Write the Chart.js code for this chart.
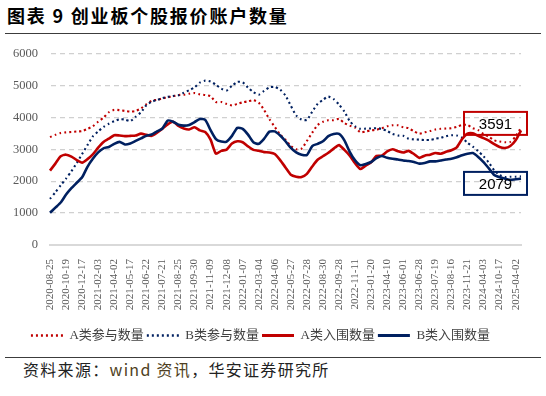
<!DOCTYPE html>
<html>
<head>
<meta charset="utf-8">
<script src="https://cdn.jsdelivr.net/npm/chart.js@4.4.1/dist/chart.umd.min.js"></script>
<style>
    html, body { margin: 0; padding: 0; background: #fff; }
    body { width: 546px; height: 396px; position: relative; overflow: hidden; font-family: "Noto Sans CJK SC", sans-serif; }
    #title { position: absolute; left: 7px; top: 2px; font-size: 18px; font-weight: 700; letter-spacing: 1.8px; color: #000; white-space: nowrap; }
    .rule { position: absolute; left: 5px; width: 536px; height: 0; border-top: 1.5px solid #3c3c3c; }
    #chartBox { position: absolute; left: 0; top: 34px; width: 546px; height: 320px; }
    #source { position: absolute; left: 23px; top: 357px; font-size: 16px; letter-spacing: 1.3px; color: #222; white-space: nowrap; }
    #source .wind { color: #4f3f22; }
</style>
</head>
<body>
<div id="title">图表 9 创业板个股报价账户数量</div>
<div class="rule" style="top:33px"></div>
<div id="chartBox"><canvas id="chart"></canvas></div>
<div class="rule" style="top:357px"></div>
<div id="source">资料来源：<span class="wind">wind 资讯</span>，华安证券研究所</div>

<script>
// tick dates shown on the x axis (one every 3 points)
const tickDates = [
    '2020-08-25', '2020-10-19', '2020-12-17', '2021-02-03', '2021-04-02', '2021-05-17',
    '2021-06-22', '2021-07-21', '2021-08-25', '2021-09-30', '2021-11-09', '2021-12-08',
    '2022-01-07', '2022-03-04', '2022-04-06', '2022-05-27', '2022-07-28', '2022-08-30',
    '2022-09-28', '2022-11-11', '2023-01-20', '2023-04-10', '2023-06-01', '2023-06-28',
    '2023-07-19', '2023-08-16', '2023-11-21', '2024-04-03', '2024-10-17', '2025-04-02'
];
const pointsPerTick = 3;

const seriesNames = ['A类参与数量', 'B类参与数量', 'A类入围数量', 'B类入围数量'];

const aJoined = [
    3380, 3450, 3510, 3530, 3540, 3555, 3570, 3640, 3720, 3860,
    3990, 4160, 4235, 4225, 4200, 4180, 4200, 4280, 4410, 4520,
    4550, 4590, 4630, 4660, 4700, 4710, 4740, 4760, 4720, 4700,
    4660, 4480, 4480, 4420, 4370, 4420, 4470, 4500, 4540, 4460,
    4230, 3940, 3700, 3460, 3300, 3100, 3000, 3020, 3260, 3520,
    3760, 3860, 3910, 3910, 3950, 3820, 3740, 3680, 3530, 3560,
    3590, 3610, 3660, 3720, 3750, 3750, 3690, 3660, 3560, 3490,
    3530, 3570, 3620, 3640, 3650, 3660, 3700, 3760, 3760, 3660,
    3600, 3480, 3390, 3280, 3240, 3220, 3230, 3400, 3680
];
const bJoined = [
    1445, 1650, 1870, 2080, 2310, 2570, 2850, 3130, 3400, 3560,
    3700, 3800, 3880, 3940, 3930, 3880, 4020, 4160, 4380, 4490,
    4540, 4600, 4640, 4670, 4690, 4770, 4850, 4940, 5090, 5150,
    5120, 5020, 4900, 4840, 4990, 5110, 5100, 4930, 4790, 4710,
    4830, 4940, 4950, 4870, 4680, 4360, 4060, 3930, 3920, 4180,
    4420, 4550, 4650, 4570, 4400, 4180, 3880, 3720, 3640, 3645,
    3650, 3660, 3640, 3570, 3480, 3430, 3420, 3330, 3310, 3300,
    3290, 3290, 3330, 3360, 3410, 3440, 3430, 3360, 3200, 3080,
    2940, 2780, 2580, 2340, 2190, 2130, 2140, 2140, 2150
];
const aEntered = [
    2330, 2550, 2780, 2830, 2770, 2660, 2580, 2690, 2840, 3050,
    3230, 3330, 3440, 3430, 3410, 3420, 3430, 3490, 3450, 3420,
    3520, 3640, 3780, 3860, 3730, 3650, 3620, 3690, 3590, 3540,
    3300, 2860, 2950, 2990, 3180, 3250, 3220, 3090, 2980, 2950,
    2910, 2900, 2850, 2660, 2430, 2200, 2140, 2130, 2230, 2460,
    2670, 2780, 2890, 3020, 3130, 2980, 2800, 2560, 2380, 2490,
    2590, 2790, 2800, 2930, 3000, 2940, 2900, 2950, 2850, 2730,
    2800, 2830, 2880, 2860, 2920, 2970, 3060, 3320, 3490, 3500,
    3420, 3350, 3270, 3160, 3070, 3040, 3100, 3280, 3591
];
const bEntered = [
    1010, 1170, 1330, 1580, 1780, 1950, 2120, 2450, 2700, 2900,
    3030, 3070, 3170, 3230, 3150, 3180, 3260, 3340, 3420, 3460,
    3560, 3650, 3900, 3860, 3770, 3740, 3760, 3850, 3950, 3920,
    3600, 3320, 3240, 3240, 3420, 3670, 3640, 3460, 3220, 3170,
    3330, 3550, 3560, 3430, 3250, 3040, 2900, 2830, 2820, 3100,
    3170, 3250, 3410, 3480, 3480, 3280, 2920, 2650, 2500, 2540,
    2600, 2720, 2790, 2730, 2700, 2680, 2650, 2630, 2600, 2550,
    2570, 2620, 2620, 2650, 2680, 2700, 2750, 2810, 2860, 2880,
    2760, 2600, 2400, 2190, 2120, 2080, 2040, 2060, 2079
];

const yTicks = [0, 1000, 2000, 3000, 4000, 5000, 6000];

const RED = '#C00000';
const NAVY = '#002060';
const AXIS_FONT = "'Liberation Serif', 'Times New Roman', 'Noto Sans CJK SC', serif";

// category labels: a date on every third point, blank in between
const xLabels = aJoined.map((_, i) => (i % pointsPerTick === 0 ? (tickDates[i / pointsPerTick] || '') : ''));

// boxes with the latest value, anchored on the y scale
const callouts = [
    { series: aEntered, color: RED, anchor: 3810 },
    { series: bEntered, color: NAVY, anchor: 1930 }
];

const calloutPlugin = {
    id: 'callouts',
    afterDatasetsDraw(chart) {
        const { ctx, chartArea, scales } = chart;
        const w = 63, h = 23;
        const left = chartArea.right - 57;
        ctx.save();
        callouts.forEach(c => {
            const cy = scales.y.getPixelForValue(c.anchor);
            ctx.strokeStyle = c.color;
            ctx.lineWidth = 2;
            ctx.setLineDash([]);
            ctx.strokeRect(left, cy - h / 2, w, h);
            ctx.fillStyle = '#000';
            ctx.font = "15px 'Liberation Sans', Arial, sans-serif";
            ctx.textAlign = 'center';
            ctx.textBaseline = 'middle';
            ctx.fillText(String(c.series[c.series.length - 1]), left + w / 2, cy + 1);
        });
        ctx.restore();
    }
};

function lineSet(label, values, color, dotted, order) {
    return {
        label: label,
        data: values,
        borderColor: color,
        backgroundColor: color,
        borderWidth: dotted ? 2.1 : 2.6,
        borderDash: dotted ? [2, 3] : [],
        pointRadius: 0,
        pointStyle: 'line',
        tension: 0.2,
        fill: false,
        order: order
    };
}

// legend samples: take dash and width from the dataset line itself
function legendItems(chart) {
    const items = Chart.defaults.plugins.legend.labels.generateLabels(chart);
    items.forEach(item => {
        const ds = chart.data.datasets[item.datasetIndex];
        item.lineDash = ds.borderDash;
        item.lineWidth = ds.borderWidth + 0.4;
        item.strokeStyle = ds.borderColor;
        item.pointStyle = 'line';
    });
    return items.sort((a, b) => a.datasetIndex - b.datasetIndex);
}

new Chart(document.getElementById('chart'), {
    type: 'line',
    data: {
        labels: xLabels,
        datasets: [
            lineSet(seriesNames[0], aJoined, RED, true, 3),
            lineSet(seriesNames[1], bJoined, NAVY, true, 2),
            lineSet(seriesNames[2], aEntered, RED, false, 1),
            lineSet(seriesNames[3], bEntered, NAVY, false, 0)
        ]
    },
    options: {
        responsive: true,
        maintainAspectRatio: false,
        animation: false,
        layout: { padding: { top: 0, right: 25, left: 0, bottom: 2 } },
        scales: {
            x: {
                afterFit: (scale) => { scale.height = 81; },
                grid: { display: false },
                border: { display: true, color: '#d9d9d9', width: 2 },
                ticks: {
                    autoSkip: false,
                    maxRotation: 90,
                    minRotation: 90,
                    padding: 6,
                    color: '#595959',
                    font: { family: AXIS_FONT, size: 11 }
                }
            },
            y: {
                min: 0,
                max: 6000,
                afterFit: (scale) => { scale.width = 50; },
                afterBuildTicks: (scale) => { scale.ticks = yTicks.map(v => ({ value: v })); },
                grid: {
                    color: '#d0d0d0',
                    lineWidth: 1.3,
                    drawTicks: false
                },
                border: { display: true, color: 'rgba(0,0,0,0)', dash: [5, 4] },
                ticks: {
                    padding: 12,
                    color: '#595959',
                    font: { family: AXIS_FONT, size: 12.5 },
                    callback: (v) => String(v)
                }
            }
        },
        plugins: {
            legend: {
                position: 'bottom',
                labels: {
                    usePointStyle: true,
                    pointStyleWidth: 32,
                    boxHeight: 10,
                    padding: 3,
                    color: '#404040',
                    font: { family: AXIS_FONT, size: 13 },
                    generateLabels: legendItems
                }
            },
            tooltip: { enabled: false }
        }
    },
    plugins: [calloutPlugin]
});
</script>
</body>
</html>
